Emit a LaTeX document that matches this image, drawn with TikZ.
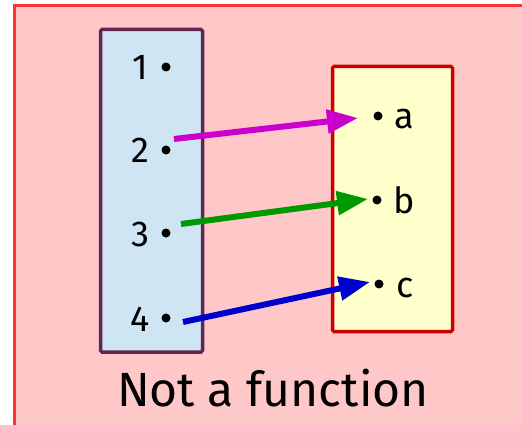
\documentclass[tikz,border=0pt]{standalone}
\usepackage{fontspec}
\setmainfont{Fira Sans}
\usetikzlibrary{arrows.meta}
\definecolor{bgpink}{HTML}{FFC8C8}
\definecolor{bgred}{HTML}{FF3333}
\definecolor{lblue}{HTML}{CFE5F3}
\definecolor{dpurple}{HTML}{5E2750}
\definecolor{lyellow}{HTML}{FFFFCC}
\definecolor{dred}{HTML}{CC0000}
\definecolor{amag}{HTML}{CC00CC}
\definecolor{agreen}{HTML}{009900}
\definecolor{ablue}{HTML}{0000CC}
\tikzset{
  setbox/.style={line width=3.5pt, rounded corners=1.5pt},
  lab/.style={font=\fontsize{36}{40}\selectfont, inner sep=0pt, anchor=base},
  pt/.style={circle, fill=black, inner sep=0pt, minimum size=9pt},
  maparrow/.style={line width=6pt, -{Triangle[length=31pt,width=23pt]}, shorten >=0pt},
}
\begin{document}
\begin{tikzpicture}[x=1pt,y=-1pt]
\useasboundingbox (0,0) rectangle (522,425);
\begin{scope}
\clip (0,0) rectangle (522,425);
\path[fill=bgpink, draw=bgred, line width=3pt] (14.5,5.5) rectangle (560,460);
\end{scope}
\path[setbox, fill=lblue, draw=dpurple] (100.5,29.5) rectangle (202.5,352) coordinate (Lbox);
\path[setbox, fill=lyellow, draw=dred] (332.5,66.5) rectangle (452.5,331.5) coordinate (Rbox);
% domain
\node[lab] (n1) at (140,80) {1};
\node[lab] (n2) at (140,163) {2};
\node[lab] (n3) at (140,246) {3};
\node[lab] (n4) at (140,331) {4};
\node[pt] (d1) at (166,67) {};
\node[pt] (d2) at (166,150) {};
\node[pt] (d3) at (166,233) {};
\node[pt] (d4) at (166,318) {};
% codomain
\node[pt] (ea) at (378,116) {};
\node[pt] (eb) at (377,200) {};
\node[pt] (ec) at (379,284) {};
\node[lab] (la) at (404,129) {a};
\node[lab] (lb) at (404,213) {b};
\node[lab] (lc) at (405,297) {c};
% arrows
\coordinate (s2) at (174,139);
\coordinate (t2) at (358,118);
\coordinate (s3) at (181,224);
\coordinate (t3) at (368,199);
\coordinate (s4) at (183,322);
\coordinate (t4) at (370,282);
\draw[maparrow, amag] (s2) -- (t2);
\draw[maparrow, agreen] (s3) -- (t3);
\draw[maparrow, ablue] (s4) -- (t4);
% caption
\node[font=\fontsize{48}{52}\selectfont, inner sep=0pt, anchor=base] (cap) at (273,406) {Not a function};
\end{tikzpicture}
\end{document}
